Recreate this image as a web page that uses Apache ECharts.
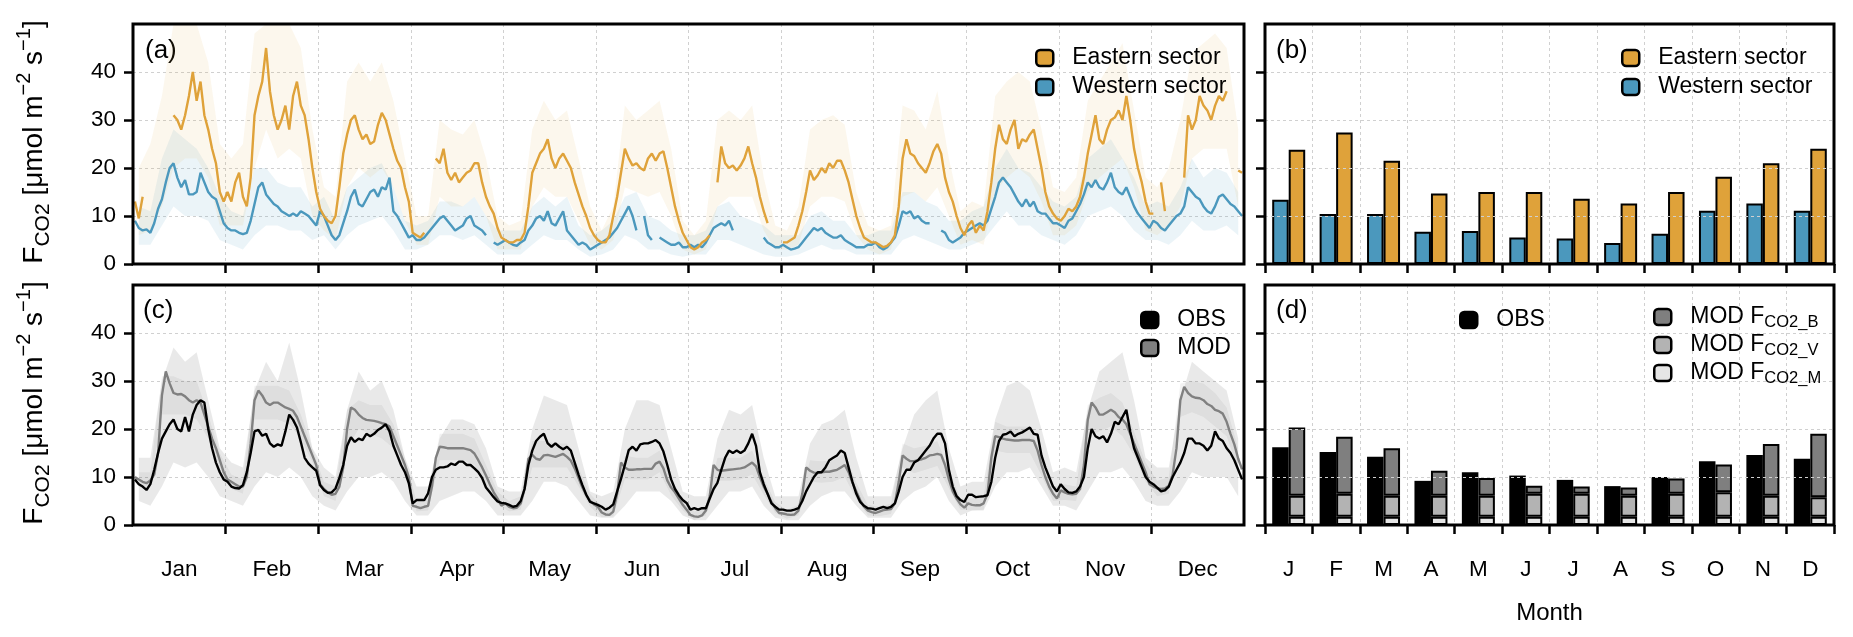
<!DOCTYPE html>
<html><head><meta charset="utf-8">
<script src="https://cdn.jsdelivr.net/npm/echarts@6/dist/echarts.min.js"></script>
<style>html,body{margin:0;padding:0;background:#fff}#c{width:1853px;height:637px}</style>
</head><body><div id="c"></div>
<script>
// ---------- DATA ----------
const months = ['Jan','Feb','Mar','Apr','May','Jun','Jul','Aug','Sep','Oct','Nov','Dec'];
const monthInitials = ['J','F','M','A','M','J','J','A','S','O','N','D'];
const yTicks = [0,10,20,30,40];

// (a) mean diurnal cycle per month (24 hourly values per month, Jan..Dec)
const easternDiurnal = [
 13,9.5,14,null,16,null,null,null,null,null,31,30,28,31,35,40,34,38,31,28,24,21,15,13,
 15,13,17,19,14,12,18,31,35,38,45,36,31,28,30,33,28,35,38,33,31,26,20,15,
 11.5,10,9,8.5,10,16,23,27,30,31,28,26,27,25,25.5,29,31.5,30,27,24,21.5,20,16,13,
 6.5,6,5.5,6.5,null,null,22,21,24,19,17.5,19,17,18,19,19.5,21,21,17,14,12,10.5,7.5,5.5,
 5,4.5,4.5,5,5,6.5,12,19,21,23,24,26,22,20,22,23,21.5,20,17,14.5,12,10,7.5,6,
 5,4.5,4.5,6,10,14,19,24,22,20.5,21,20,19.5,22,23,21.5,23,23.5,20,16,12,9,6.5,5,
 3.5,3,3.5,4.5,5,6,null,17,24.5,21,20,20.5,19.5,20.5,22,24.5,21,18,14,11,8.5,null,null,null,
 4.5,4.5,5,5.5,8,11,15,19.5,17.5,18.5,20,19,21,20,21.5,21.5,19.5,17,13.5,10,7.5,5.5,5,4.5,
 4.5,4,3.5,3.8,4.5,6,12,22,26,23,22.5,21,20,19,21,23.5,25,23,18,15,13,10,7.5,6,
 8,9,6.5,8,7,11,17,24,29,26,25,28,30,24,26,25.5,27,28,24,20,15,12,10.5,9.5,
 9,10,11.5,11,12,14,18,23,27,31,26,25,28,30,30.5,32,30,35,30,24,20,17,13,10.5,
 10.5,null,17,11,null,null,null,null,18,31,28,30,35,33,32,30,33,35,34,36,null,null,19.5,19
];
const westernDiurnal = [
 9,7.5,7,7.2,6.5,8.5,11.5,13.5,17,20,21,18,16,17.5,14.5,14.5,15,19,17,15,14,13.5,11,8.5,
 7.5,7,7,6.5,6.2,6.5,9,12.5,16,17,14.5,13.5,12.5,12,11,10.5,10,10.5,10,11,10.5,10,9,8,
 11,10,8,6,5,6,8.5,11,14,15.5,12.5,12,13.5,15,15.5,14,16,15.5,18,11,10,8.5,7,5.5,
 6,5,5,5.5,6.5,7.5,8.5,9.5,10,9,8,7,7.5,8,9.5,10,8,7.5,7,6,null,4.5,4,4.5,
 5,4.5,4,3.8,4.5,5,7,8,9.5,10,9,11,8.5,8,9.5,11,7,6,5,4,4.5,4,3,3.5,
 4,4.5,5,5.5,6.5,7.5,9,10.5,12,10,7,null,10,6,5,null,5.5,5,4.5,4,4,4.5,3.5,3.5,
 4,3.5,4,3.5,4.5,6,7.5,8,8.5,8,9,7,null,null,7,null,null,null,null,5.5,4.5,4,3.5,3.5,
 4,3.5,3,3.2,3.5,4.5,5.5,6.5,7.5,7,7.5,6.5,6,5.5,5.5,6,5,4.5,4,3.5,3.5,3.5,4,4,
 4.5,3.5,3,3.5,4.5,5.5,8,11,10.5,11,9.5,10,9,8.5,8.5,null,null,7,6.5,5,4.5,5,5.5,6.5,
 7,7.5,8,8.5,8,9,11.5,14,17,18,17,16,14.5,13,12,13.5,12,13,11,10.5,10.5,9.5,8.5,8.5,
 8,7.5,9,9.5,11,12.5,14.5,17,16,17.5,16,15.5,17,19,16,15,14.5,16,14,12,10.5,9.5,8.5,7.5,
 9,8.5,7.5,7,8,9,10,10.5,12,16,15,14,13.5,12,11,10.5,12,14,14.5,13.5,12.5,12,11,10
];
// shaded spread, sampled at hours 1,4,7,...,22 of each month
const bandHours = [1,4,7,10,13,16,19,22];
const easternBandHigh = [
 20,25,35,50,50,50,42,25, 22,25,48,50,50,50,45,28, 16,14,38,42,38,42,34,22,
 10,10,30,28,27,30,22,10, 8,9,28,34,30,32,22,12, 7,12,33,30,32,34,24,9,
 6,9,30,32,30,33,18,8, 7,12,28,30,31,29,15,8, 7,8,33,32,28,36,22,11,
 13,12,35,38,40,38,28,16, 15,18,34,38,42,46,32,18, 16,20,30,44,46,48,45,28
];
const easternBandLow = [
 6,7,12,20,22,22,18,8, 8,8,20,28,22,24,22,10, 7,5,16,20,18,20,16,9,
 4,4,14,12,12,14,10,3, 3,3,12,16,14,14,9,4, 3,5,16,15,14,15,10,3,
 2,3,12,14,14,14,7,3, 3,4,12,14,14,13,6,3, 2,3,14,15,13,16,10,4,
 5,4,15,18,20,18,13,6, 6,8,15,18,20,22,16,7, 6,8,12,22,24,24,24,12
];
const westernBandHigh = [
 12,11,22,28,26,24,20,14, 11,10,20,20,17,16,16,12, 14,9,16,18,20,21,16,9,
 8,9,13,13,12,14,10,7, 7,7,12,14,12,14,8,6, 7,9,14,15,10,9,7,6,
 6,7,12,13,10,9,8,6, 6,6,10,11,9,9,6,6, 7,7,15,15,13,12,9,9,
 11,12,20,24,20,19,16,13, 12,14,22,24,26,22,18,12, 13,12,16,22,18,20,19,15
];
const westernBandLow = [
 4,4,8,12,10,10,9,5, 4,3,6,8,8,7,7,5, 6,3,6,8,9,10,7,3,
 3,4,6,6,5,6,4,2, 2,2,4,6,5,5,3,1.5, 2,3,6,5,3,3,2,1.5,
 2,2,5,5,4,3,2,1.5, 1.5,2,3,4,3,3,2,2, 2,2,5,6,5,4,3,3,
 4,5,8,11,8,8,6,5, 4,6,10,11,12,10,7,5, 5,4,6,9,7,7,8,6
];

// (c) observed vs modelled diurnal cycle
const obsDiurnal = [
 9.5,8.5,8,7.3,8.5,11.5,15,18,19.5,21,22,20,19.5,22.5,19.5,23,25,26,25.5,20,16,13,11,9.5,
 9,8,7.7,7.6,8.3,11,15,19.5,19.8,18.6,19,17,16.3,16.8,16.5,19.5,23,21.9,20.3,17.3,14,12.8,12,11.3,
 8.3,7.3,6.7,6.8,7.6,9.8,12.5,16.5,18.3,17.3,18,17.7,19,18.5,19,19.8,20.3,21,19.5,16.5,14.5,12.5,11,8.7,
 4.5,5.2,5.2,5.2,6.6,10,11.5,12,12,12.2,12.8,12.5,13.2,13.2,12.5,12.5,11.8,11,9.8,7.8,6.8,5.8,4.9,4.6,
 4.5,4.2,3.8,4,5,7.5,12.5,15.5,17.5,18.4,19,17,16.3,17,16.3,15.8,16.3,15.5,13,10.5,8.3,6.3,4.8,4.5,
 4.2,3.8,3.2,3.6,4.3,7,9.6,12.5,15.6,16.3,15.5,16.8,17,17,17.3,17.7,17,15.3,12.5,9.5,7.5,6.2,5.2,4.6,
 3.2,3.5,3.2,3.5,3.5,5.5,7.5,8.8,11.5,14,15.5,15,15.5,15,15.5,17,19,16.5,11,8.5,6.5,4.5,3.8,3.2,
 3.2,3,3,3.2,3.5,5,7,8.5,10,11,11,12,13.5,14,14.5,15.5,15,12,9,6.5,4.8,4,3.5,3.4,
 3.2,3.5,3.8,3.5,3.8,4.5,7,10,11.5,11.5,13,13.5,14.5,15.5,16.5,18,19,19,17,11.5,8,6,5.2,4.8,
 6.3,6.3,5.8,5.9,6,6.2,9,14,17.5,18.8,19,19.5,18.5,19,19.3,19.8,20.3,19,18.8,14.5,12,10,8,7,
 8.5,7.5,6.8,6.7,7,8,10,16,20,18.5,18,18.5,17.2,19,21.5,21,22.5,24,19.5,16,14,12,10,9,
 8.5,7.8,7,7.2,8,10,11.5,13,15,18,18,17,17,16.5,15.5,16.5,19.5,18,17.5,16,15,13.5,11.5,9.5
];
const modDiurnal = [
 10,9.5,9,8.7,9.3,10.5,15,27,32,29.5,27.5,27.2,27.3,26.8,26,25.5,26,25.5,23,20.5,18,16,13.5,11,
 9.5,9,8.5,8,8,10,17,26,28,27,25.5,25,25.5,25.5,25,24.5,24.2,23.8,22.5,20.5,18.5,16.5,14.5,12.5,
 8.5,7.5,6.8,6.3,6.5,8,12,20,24.5,24,23,22.3,21.9,21.8,21.7,21.5,21.2,21,20.5,18.5,16.5,14.5,12.5,10,
 4,3.8,3.5,3.8,4,8,14,16.3,16.2,16,16,16,16,16,15.8,15.6,14.9,13.5,12,10.3,8.5,6.8,5.5,4,
 4.5,3.8,3.5,3.6,4.5,7.5,13.8,14.6,13.8,13.6,14.5,14.6,14.4,14.2,14.5,14.8,14.2,13.4,11.8,9.8,7.8,6.2,5,4.3,
 3.8,2.6,2.2,2.1,2.8,6.5,13,12,11.5,11.5,11.6,11.6,11.7,11.7,11.7,12.8,13.2,11.8,9.3,7.8,6.8,5.5,4.2,3.2,
 2.1,1.8,1.7,2,3,6,12.5,11.5,11.3,11.4,11.5,11.6,11.7,11.8,12,12.5,13,12.2,10,8,6.5,4.8,3.5,2.5,
 2.4,2.2,2.1,2.2,3,6.5,12,11.3,10.9,10.8,11,11.1,11.1,11.3,11.5,12,12.5,11,8.8,7,5.2,3.8,3,2.7,
 2.5,2.8,3.1,3.2,3.3,4.5,9,14.5,13.8,13.3,13.3,13.5,13.7,14,14.5,14.6,14.8,14.6,12.5,9.5,7,5.5,4.3,3.6,
 4.5,4.2,4.1,4.1,4.5,6.5,14,18.5,18.3,18,17.8,17.7,17.6,17.6,17.7,17.7,17.7,17.5,15.5,12.5,10,8,6.5,5.5,
 7.2,6.8,6.5,6.4,6.5,7.5,12.5,21.9,25.5,24.5,23,23,23.5,24,23.5,22.5,22,21,19,17,15,13,11,8.5,
 8,7.6,7.5,7.6,8.2,10.5,16,26,28.8,27.5,26.8,26.5,26.4,26,25.2,24.8,24,23.7,23.2,21.5,19,16.8,13.8,11.6
];
const spreadHigh = [
 14,14,30,37,34,36,26,16, 13,12,28,34,30,38,28,16, 12,10,24,32,28,30,24,14,
 8,8,18,22,22,21,16,8, 7,7,20,27,26,25,16,7, 6,7,20,26,26,25,16,7,
 6,6,18,24,23,25,14,6, 6,6,17,21,22,24,14,6, 6,6,16,23,26,28,16,8,
 9,9,22,29,30,28,20,11, 12,11,24,32,34,36,26,14, 12,12,26,34,32,30,28,18
];
const spreadLow = [
 5,4,8,13,12,13,10,6, 5,4,8,11,10,12,10,6, 4,3,7,10,10,11,9,5,
 2,2,5,6,7,7,5,2, 2,2,5,9,9,8,5,2, 1.5,1.5,4,7,7,7,5,2,
 1,1,4,7,7,8,4,1.5, 1,1,4,6,7,7,4,1.5, 1.5,1.5,5,7,8,10,5,2,
 3,3,8,11,11,12,8,4, 4,3,7,11,11,12,9,5, 4,4,7,11,10,10,10,6
];
const modSpreadHigh = [
 11,11,31,31,30,30,23,15, 10.5,9.5,29,29,29,28,23,16, 9,8,24,26,25,25,21,14,
 5,5.5,19,19,19,18,12.5,7, 5,6,17.5,17.5,17,17,12,6.5, 3.8,4,14.5,14,14,15.5,9.5,5.5,
 2.8,4.2,14,14,14,15.5,9.8,4.8, 3.2,4.2,13.5,13.3,13.5,15,8.8,4.2, 3.8,4.5,17,16,16.5,17.5,11.5,5.5,
 5.5,6,21.5,20.5,20.5,20.5,14.8,8, 8.5,8,25,26.5,27.5,25.5,19.5,13, 9.2,10,29.5,30,29.5,27.5,24.5,16
];
const modSpreadLow = [
 8,8,23,23,23,22,18,12, 7.5,6.5,22,22,22,21,18,13, 6,5,16,20,19,18,16,11,
 2.8,3,13.5,13.5,13.5,12.5,8.5,4.3, 2.8,3.2,12,12,12,12,8,3.8, 1.6,1.8,9.5,9.5,9.5,11,6.2,3,
 1,2,9.2,9.2,9.5,10.5,6.3,2.5, 1.3,2,9,8.8,9,10,5.4,2, 1.8,2.3,12,10.8,11.5,12.3,7.6,3.2,
 3,3.2,15.5,15,15,15,10.3,5, 5.2,5,18.5,19.5,20.5,18.5,14.5,9, 6,6.5,22.5,23.5,22.5,20.5,18.5,11.5
];

// (b) monthly means
const westernMonthly = [13.4,10.4,10.4,6.7,6.9,5.5,5.3,4.4,6.3,11.1,12.6,11.1];
const easternMonthly = [23.8,27.4,21.5,14.7,15.0,15.0,13.6,12.6,15.0,18.2,21.0,24.0];
// (d) observed and modelled components
const obsMonthly = [16.2,15.2,14.2,9.2,11.0,10.3,9.4,8.1,10.0,13.3,14.6,13.8];
const modM = [1.7,1.7,1.7,1.7,1.7,1.7,1.7,1.7,1.7,1.7,1.7,1.7];
const modV = [4.4,4.8,4.4,4.4,4.4,4.8,4.8,4.4,4.8,5.1,4.4,4.1];
const modB = [14.2,11.9,9.9,5.2,3.7,1.7,1.5,1.7,3.2,5.8,10.8,13.2];

// ---------- STYLE ----------
const FONT = '"Liberation Sans", Arial, Helvetica, sans-serif';
const C_E = '#DFA23A', C_W = '#4B98BD';
const C_B = '#7f7f7f', C_V = '#b3b3b3', C_M = '#e6e6e6';
const GRID_LINE = {show:true, lineStyle:{color:'#d0d0d0', width:1, type:[3,3]}};
const TICK = {show:true, inside:false, length:9, lineStyle:{color:'#000', width:2.5}};
const TICKFS = 22.5;
const LEGFS = 23;

function hourly(vals){
  return vals.map((v,i)=>[Math.floor(i/24)+((i%24)+0.5)/24, v==null?'-':v]);
}
function bandX(i){ return Math.floor(i/8) + (bandHours[i%8]+0.5)/24; }
function band(lo, hi, color, xi, yi){
  return {type:'custom', xAxisIndex:xi, yAxisIndex:yi, silent:true, z:1, data:[[0,0]],
    renderItem:function(params, api){
      const pts = [];
      for (let i=0;i<hi.length;i++) pts.push(api.coord([bandX(i), hi[i]]));
      for (let i=lo.length-1;i>=0;i--) pts.push(api.coord([bandX(i), lo[i]]));
      return {type:'polygon', shape:{points:pts}, style:{fill:color}};
    }};
}
function valueX(gi){
  return {type:'value', gridIndex:gi, min:0, max:12, interval:1, position:'bottom',
    axisLine:{show:false}, axisTick:Object.assign({}, TICK, {customValues:[1,2,3,4,5,6,7,8,9,10,11]}),
    axisLabel:{show:false}, splitLine:GRID_LINE};
}
function valueY(gi, labels, z){
  return {type:'value', gridIndex:gi, min:0, max:50, interval:10, z:z||0,
    axisLine:{show:false}, axisTick:Object.assign({}, TICK, {customValues:yTicks}),
    axisLabel:{show:labels, customValues:yTicks, fontSize:TICKFS, color:'#000', margin:17, fontFamily:FONT},
    splitLine:GRID_LINE};
}
function catX(gi, data, labels){
  return {type:'category', gridIndex:gi, data:data, boundaryGap:true, position:'bottom',
    axisLine:{show:false}, axisTick:TICK,
    axisLabel:{show:labels, fontSize:TICKFS, color:'#000', margin:33, fontFamily:FONT, interval:0},
    splitLine:Object.assign({}, GRID_LINE, {interval:0})};
}
const legendText = {fontSize:LEGFS, color:'#000', fontFamily:FONT, lineHeight:24, padding:[0,0,0,14]};
function legendItem(name, color){ return {name:name, itemStyle:{color:color, borderColor:'#000', borderWidth:2.5}}; }
function legend(left, top, items, gap, extra){
  return Object.assign({orient:'vertical', left:left, top:top, icon:'roundRect', itemWidth:17, itemHeight:16,
    itemGap:gap, selectedMode:false, textStyle:legendText, data:items}, extra||{});
}
const titleRich = {
  m:{fontSize:28, lineHeight:40, verticalAlign:'middle', fontFamily:FONT, fill:'#000'},
  s:{fontSize:21, lineHeight:21, verticalAlign:'bottom', fontFamily:FONT, fill:'#000'},
  p:{fontSize:20, lineHeight:20, verticalAlign:'top', fontFamily:FONT, fill:'#000'}
};
const titleText = '{m|F}{s|CO2}{m| [μmol m}{p|−2}{m| s}{p|−1}{m|]}';
function yTitle(cy){
  return {type:'text', x:34, y:cy, rotation:Math.PI/2,
    style:{text:titleText, rich:titleRich, align:'center', verticalAlign:'middle'}};
}
function panelLabel(x, y, t){
  return {type:'text', x:x, y:y, style:{text:t, font:'26px '+FONT, fill:'#000', verticalAlign:'middle'}};
}

const option = {
  animation:false,
  textStyle:{fontFamily:FONT},
  grid:[
    {left:133, top:24, width:1111, height:240, show:true, borderColor:'#000', borderWidth:3, z:10, backgroundColor:'transparent'},
    {left:133, top:285, width:1111, height:240, show:true, borderColor:'#000', borderWidth:3, z:10, backgroundColor:'transparent'},
    {left:1265, top:24, width:569, height:240, show:true, borderColor:'#000', borderWidth:3, z:10, backgroundColor:'transparent'},
    {left:1265, top:285, width:569, height:240, show:true, borderColor:'#000', borderWidth:3, z:10, backgroundColor:'transparent'}
  ],
  xAxis:[
    valueX(0),
    valueX(1),
    Object.assign(catX(1, months, true), {axisTick:{show:false}, splitLine:{show:false}, offset:0}),
    catX(2, monthInitials, false),
    Object.assign(catX(3, monthInitials, true), {name:'Month', nameLocation:'middle', nameGap:76,
      nameTextStyle:{fontSize:24, color:'#000', fontFamily:FONT}})
  ],
  yAxis:[ valueY(0,true), valueY(1,true), valueY(2,false,3), valueY(3,false,3) ],
  legend:[
    legend(1030, 41, [legendItem('Eastern sector', C_E), legendItem('Western sector', C_W)], 5),
    legend(1616, 41, [legendItem('Eastern sector', C_E), legendItem('Western sector', C_W)], 5),
    legend(1135, 303, [legendItem('OBS', '#000'), legendItem('MOD', '#808080')], 4),
    legend(1454, 303, [legendItem('OBS', '#000')], 4),
    legend(1648, 298, [legendItem('MOD F_CO2_B', C_B), legendItem('MOD F_CO2_V', C_V), legendItem('MOD F_CO2_M', C_M)], 0, {
      formatter: function(n){ return '{m|MOD F}{s|' + n.split('F_')[1] + '}'; },
      textStyle: Object.assign({}, legendText, {rich:{
        m:{fontSize:LEGFS, lineHeight:28, verticalAlign:'middle', fontFamily:FONT, color:'#000'},
        s:{fontSize:16.5, lineHeight:16, verticalAlign:'bottom', fontFamily:FONT, color:'#000'}
      }})
    })
  ],
  graphic:[
    yTitle(142), yTitle(403),
    panelLabel(145, 51, '(a)'), panelLabel(1276, 51, '(b)'),
    panelLabel(143, 311, '(c)'), panelLabel(1276, 311, '(d)')
  ],
  series:[
    band(westernBandLow, westernBandHigh, 'rgba(75,152,189,0.11)', 0, 0),
    band(easternBandLow, easternBandHigh, 'rgba(223,162,58,0.09)', 0, 0),
    {type:'line', name:'Western sector', xAxisIndex:0, yAxisIndex:0, symbol:'none', connectNulls:false,
     lineStyle:{color:C_W, width:2.4}, itemStyle:{color:C_W}, data:hourly(westernDiurnal), z:3},
    {type:'line', name:'Eastern sector', xAxisIndex:0, yAxisIndex:0, symbol:'none', connectNulls:false,
     lineStyle:{color:C_E, width:2.4}, itemStyle:{color:C_E}, data:hourly(easternDiurnal), z:4},
    band(spreadLow, spreadHigh, 'rgba(0,0,0,0.085)', 1, 1),
    band(modSpreadLow, modSpreadHigh, 'rgba(0,0,0,0.05)', 1, 1),
    {type:'line', name:'MOD', xAxisIndex:1, yAxisIndex:1, symbol:'none',
     lineStyle:{color:'#808080', width:2.4}, itemStyle:{color:'#808080'}, data:hourly(modDiurnal), z:3},
    {type:'line', name:'OBS', xAxisIndex:1, yAxisIndex:1, symbol:'none',
     lineStyle:{color:'#000', width:2.4}, itemStyle:{color:'#000'}, data:hourly(obsDiurnal), z:4},
    {type:'bar', name:'Western sector', xAxisIndex:3, yAxisIndex:2, data:westernMonthly, barWidth:16.5, barGap:'0%',
     itemStyle:{color:C_W, borderColor:'#000', borderWidth:2}},
    {type:'bar', name:'Eastern sector', xAxisIndex:3, yAxisIndex:2, data:easternMonthly, barWidth:16.5, barGap:'0%',
     itemStyle:{color:C_E, borderColor:'#000', borderWidth:2}},
    {type:'bar', name:'OBS', xAxisIndex:4, yAxisIndex:3, data:obsMonthly, barWidth:16.5, barGap:'0%',
     itemStyle:{color:'#000', borderColor:'#000', borderWidth:0}},
    {type:'bar', name:'MOD F_CO2_M', stack:'mod', xAxisIndex:4, yAxisIndex:3, data:modM, barWidth:16.5, barGap:'0%',
     itemStyle:{color:C_M, borderColor:'#000', borderWidth:2}},
    {type:'bar', name:'MOD F_CO2_V', stack:'mod', xAxisIndex:4, yAxisIndex:3, data:modV, barWidth:16.5, barGap:'0%',
     itemStyle:{color:C_V, borderColor:'#000', borderWidth:2}},
    {type:'bar', name:'MOD F_CO2_B', stack:'mod', xAxisIndex:4, yAxisIndex:3, data:modB, barWidth:16.5, barGap:'0%',
     itemStyle:{color:C_B, borderColor:'#000', borderWidth:2}}
  ]
};
const chart = echarts.init(document.getElementById('c'), null, {renderer:'canvas'});
chart.setOption(option);
</script>
</body></html>
